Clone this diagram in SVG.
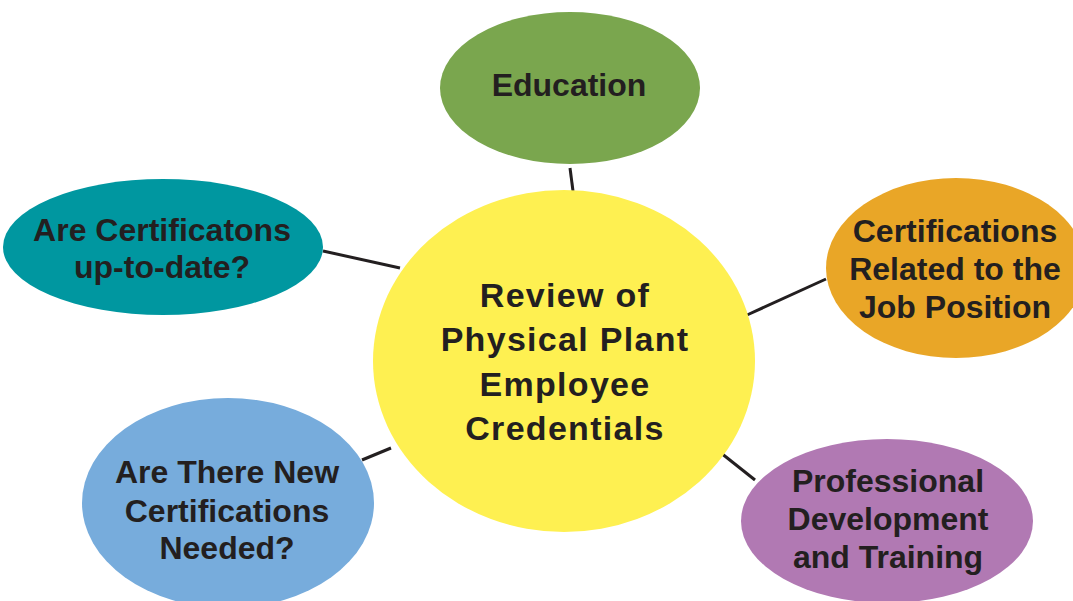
<svg xmlns="http://www.w3.org/2000/svg" width="1073" height="601" viewBox="0 0 1073 601">
<style>
text{font-family:"Liberation Sans",Arial,sans-serif;font-weight:bold;font-size:32px;fill:#231f20;text-anchor:middle}
.c{font-size:34px;letter-spacing:1.3px}
line{stroke:#231f20;stroke-width:3}
</style>
<rect width="1073" height="601" fill="#ffffff"/>
<g id="connectors">
<line x1="570" y1="168" x2="573" y2="191"/>
<line x1="323" y1="251" x2="400" y2="268"/>
<line x1="747" y1="315" x2="826" y2="279"/>
<line x1="362" y1="460" x2="391" y2="448"/>
<line x1="721" y1="453" x2="755" y2="480"/>
</g>
<g id="center">
<ellipse cx="564" cy="361" rx="191" ry="171" fill="#fef051"/>
<text class="c" x="565" y="307">Review of</text>
<text class="c" x="565" y="351">Physical Plant</text>
<text class="c" x="565" y="396">Employee</text>
<text class="c" x="565" y="440">Credentials</text>
</g>
<g id="education">
<ellipse cx="570" cy="88" rx="130" ry="76" fill="#7aa64e"/>
<text x="569" y="96">Education</text>
</g>
<g id="uptodate">
<ellipse cx="163" cy="247" rx="160" ry="68" fill="#0097a0"/>
<text x="162" y="241">Are Certificatons</text>
<text x="162" y="278">up-to-date?</text>
</g>
<g id="related">
<ellipse cx="956" cy="268" rx="130" ry="90" fill="#e9a627"/>
<text x="955" y="242">Certifications</text>
<text x="955" y="280">Related to the</text>
<text x="955" y="318">Job Position</text>
</g>
<g id="newcerts">
<ellipse cx="228" cy="503" rx="146" ry="105" fill="#77acdc"/>
<text x="227" y="483">Are There New</text>
<text x="227" y="522">Certifications</text>
<text x="227" y="559">Needed?</text>
</g>
<g id="profdev">
<ellipse cx="887" cy="521" rx="146" ry="82" fill="#b179b3"/>
<text x="888" y="492">Professional</text>
<text x="888" y="530">Development</text>
<text x="888" y="568">and Training</text>
</g>
</svg>
